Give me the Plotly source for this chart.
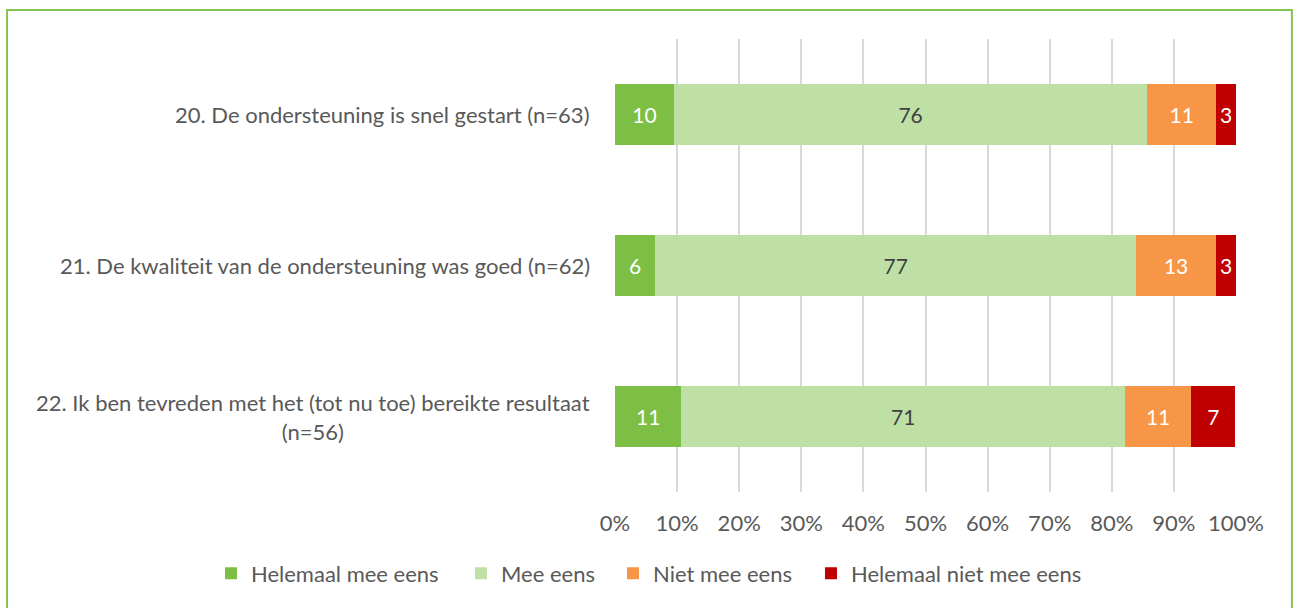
import plotly.graph_objects as go

categories = [
    "20. De ondersteuning is snel gestart (n=63)",
    "21. De kwaliteit van de ondersteuning was goed (n=62)",
    "22. Ik ben tevreden met het (tot nu toe) bereikte resultaat<br>(n=56)",
]
series_names = ["Helemaal mee eens", "Mee eens", "Niet mee eens", "Helemaal niet mee eens"]
helemaal_mee_eens = [9.5, 6.5, 10.7]
mee_eens = [76.2, 77.4, 71.4]
niet_mee_eens = [11.1, 12.9, 10.7]
helemaal_niet_mee_eens = [3.2, 3.2, 7.1]
label_hme = ["10", "6", "11"]
label_me = ["76", "77", "71"]
label_nme = ["11", "13", "11"]
label_hnme = ["3", "3", "7"]
tick_vals = [0, 10, 20, 30, 40, 50, 60, 70, 80, 90, 100]
tick_text = ["0%", "10%", "20%", "30%", "40%", "50%", "60%", "70%", "80%", "90%", "100%"]

colors = ["#7cbf44", "#bfe0a5", "#f79646", "#c00000"]
text_colors = ["#ffffff", "#404040", "#ffffff", "#ffffff"]
values = [helemaal_mee_eens, mee_eens, niet_mee_eens, helemaal_niet_mee_eens]
labels = [label_hme, label_me, label_nme, label_hnme]
legend_ids = ["legend", "legend2", "legend3", "legend4"]
legend_x = [-0.6506, -0.2480, -0.0032, 0.3156]

FONT = "Lato"
FS = 22
fig = go.Figure()
for name, vals, labs, col, tcol, lg in zip(series_names, values, labels, colors, text_colors, legend_ids):
    fig.add_trace(go.Bar(
        y=categories, x=vals, name=name, orientation="h",
        marker=dict(color=col, line=dict(width=0)),
        text=labs, textposition="inside", insidetextanchor="middle",
        textangle=0, constraintext="none",
        insidetextfont=dict(color=tcol, size=21, family=FONT),
        hoverinfo="skip", legend=lg,
    ))

for cat in categories:
    fig.add_annotation(
        x=-0.037, xref="paper", y=cat, yref="y", text=cat,
        showarrow=False, xanchor="right", yanchor="middle", align="center",
        font=dict(size=FS, color="#595959", family=FONT),
    )

# outer border
fig.add_shape(type="rect", xref="paper", yref="paper",
              x0=-0.979, x1=1.090, y0=-0.30, y1=1.064,
              line=dict(color="#84c451", width=2), fillcolor="rgba(0,0,0,0)", layer="above")

legend_common = dict(orientation="h", xref="paper", yref="paper",
                     xanchor="left", y=-0.18, yanchor="middle",
                     font=dict(size=FS, color="#595959", family=FONT),
                     bgcolor="rgba(0,0,0,0)",
                     itemclick=False, itemdoubleclick=False)

fig.update_layout(
    barmode="stack",
    bargap=0.6,
    width=1295, height=608,
    margin=dict(l=615, r=59, t=39, b=116, autoexpand=False),
    paper_bgcolor="white", plot_bgcolor="white",
    font=dict(family=FONT, color="#595959", size=FS),
    uniformtext=dict(minsize=21, mode="show"),
    xaxis=dict(range=[0, 100], tickvals=tick_vals, ticktext=tick_text,
               showgrid=True, gridcolor="#d9d9d9", gridwidth=1.5,
               zeroline=False, showline=False, ticks="",
               ticklabelstandoff=16,
               tickfont=dict(size=FS, color="#595959", family=FONT), fixedrange=True),
    yaxis=dict(categoryorder="array", categoryarray=categories[::-1],
               showticklabels=False, showgrid=False, zeroline=False, showline=False,
               fixedrange=True),
    showlegend=True,
    legend=dict(x=legend_x[0], **legend_common),
    legend2=dict(x=legend_x[1], **legend_common),
    legend3=dict(x=legend_x[2], **legend_common),
    legend4=dict(x=legend_x[3], **legend_common),
)

fig.write_html(
    "out.html",
    config={"displayModeBar": False, "staticPlot": False},
    post_script="document.body.style.margin='0px';document.body.style.overflow='hidden';",
)
